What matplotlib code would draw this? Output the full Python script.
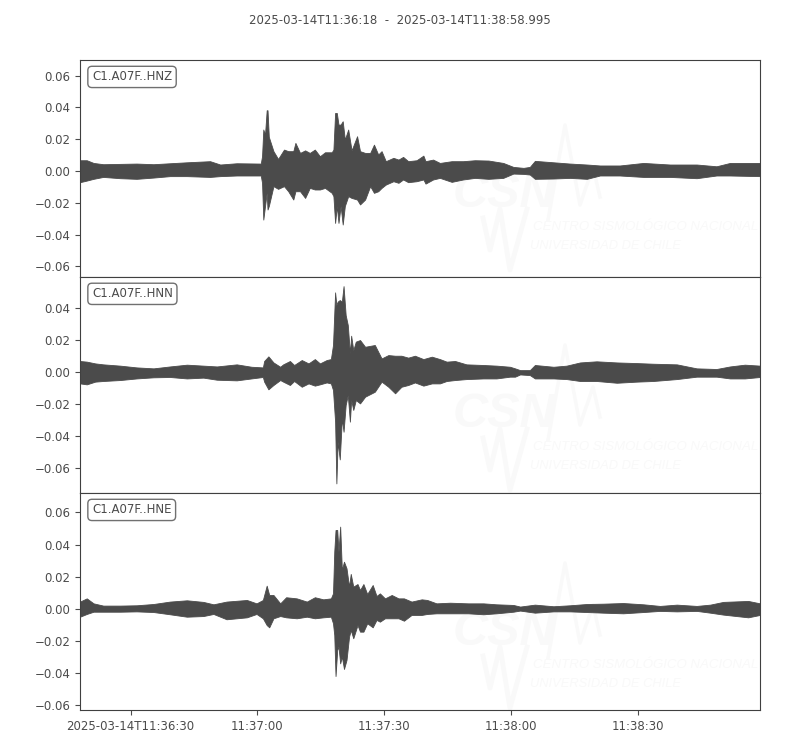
import numpy as np
import matplotlib
matplotlib.use("Agg")
import matplotlib.pyplot as plt

# trace envelopes: seconds after 11:36:18, amplitude in 1/1000
hnz_t = [0.0, 1.6, 3.2, 5.5, 9.5, 13.4, 17.4, 21.3, 25.3, 30.8, 33.2, 37.1, 42.8, 43.1, 43.4, 43.8, 44.2, 44.4, 44.7,
         45.8, 46.9, 48.3, 49.3, 50.5, 51.0, 52.1, 53.3, 54.4, 55.6, 56.8, 58.0, 59.6, 60.0, 60.4, 60.8, 61.2, 61.7,
         62.2, 62.7, 63.5, 64.3, 65.6, 66.3, 67.5, 68.7, 69.6, 70.6, 71.4, 72.4, 74.2, 75.4, 76.5, 77.7, 79.7, 81.3,
         81.8, 83.6, 85.2,
         88.0, 90.7, 93.5, 96.7, 100.2, 102.6, 105.0, 106.5, 107.7, 112.1, 116.0, 120.0, 123.1, 127.8, 133.4, 139.7,
         146.0, 150.7, 153.9, 161.0]
hnz_up = [6.8, 6.8, 5.1, 4.3, 4.5, 4.7, 4.3, 4.9, 5.5, 6.2, 4.1, 4.9, 4.7, 9.3, 26.1, 22.9, 38.2, 38.2, 21.5,
          12.5, 7.6, 13.5, 12.5, 12.5, 17.7, 11.4, 13.0, 11.4, 13.5, 9.3, 11.8, 11.8, 13.5, 36.5, 36.5, 29.2, 29.2,
          31.3, 19.8, 26.1, 13.0, 21.9, 12.5, 11.4, 11.4, 16.6, 10.4, 12.5, 6.2, 8.3, 7.2, 8.9, 6.2, 6.8, 9.7,
          6.2, 7.2, 5.1,
          6.2, 6.2, 6.8, 6.6, 5.1, 2.6, 2.0, 2.6, 6.4, 5.5, 4.7, 4.1, 3.5, 3.5, 5.1, 4.1,
          4.1, 3.0, 5.1, 5.1]
hnz_lo = [-7.0, -6.0, -4.9, -3.7, -4.5, -4.9, -4.1, -3.2, -3.2, -3.7, -3.2, -2.8, -2.8, -7.4, -30.5, -22.1, -13.7, -24.2, -22.0,
          -9.5, -11.2, -9.5, -12.7, -17.9, -12.7, -12.7, -16.9, -10.6, -11.6, -11.6, -10.6, -13.7, -15.8, -32.6, -22.0, -32.6, -22.0,
          -33.6, -22.0, -15.8, -16.9, -17.9, -21.0, -17.9, -9.5, -13.7, -12.7, -10.6, -8.5, -6.4, -7.4, -5.3, -7.0, -6.4, -5.3,
          -7.9, -5.3, -4.3,
          -6.8, -5.3, -4.3, -4.9, -4.3, -1.6, -1.8, -2.2, -4.9, -4.7, -4.3, -4.9, -2.8, -2.8, -3.7, -3.7,
          -4.5, -2.8, -2.8, -3.2]

hnn_t = [0.0, 1.6, 3.6, 5.5, 9.5, 13.4, 17.4, 21.3, 25.3, 29.2, 32.4, 37.1, 40.6, 43.3, 43.6, 44.6,
         45.8, 47.4, 48.1, 49.7, 50.7, 52.5, 54.1, 55.6, 56.8, 58.4, 59.4, 59.9,
         60.4, 60.7, 61.0, 61.5, 62.0, 62.4, 62.9, 63.4, 63.9, 64.2, 64.7, 65.3,
         66.3, 67.5, 69.8, 71.4, 73.0, 74.6, 76.1, 77.7, 79.3, 81.3, 83.3, 85.2, 86.8, 88.8, 91.5, 95.5, 98.6, 101.8, 103.0, 104.2,
         106.5, 107.7, 112.1, 115.2, 118.4, 122.3, 127.1, 131.8, 135.7, 141.3, 146.0, 150.7, 153.9, 157.4, 161.0]
hnn_up = [6.9, 6.5, 5.4, 4.8, 4.0, 2.9, 2.3, 3.5, 4.6, 4.0, 3.5, 4.8, 3.3, 2.9, 6.9, 9.8,
          6.0, 3.3, 4.8, 6.9, 4.4, 7.5, 5.4, 8.1, 5.4, 7.5, 8.1, 16.9,
          49.8, 41.9, 44.0, 45.0, 44.0, 53.7, 35.6, 29.4, 11.7, 22.7, 13.7, 19.0,
          20.0, 15.8, 16.9, 8.5, 10.6, 10.2, 10.2, 9.0, 10.2, 8.1, 9.6, 8.1, 6.5, 6.9, 4.8, 4.4, 4.0, 3.3, 2.3, 1.2,
          1.2, 4.4, 3.3, 4.0, 6.0, 6.7, 6.0, 5.6, 5.2, 4.8, 2.3, 1.9, 3.5, 4.6, 4.0]
hnn_lo = [-7.1, -7.7, -6.0, -5.6, -5.0, -4.0, -3.3, -3.1, -4.0, -3.5, -4.8, -5.2, -4.0, -3.1, -6.0, -10.8,
          -8.1, -5.0, -6.0, -8.1, -5.6, -9.2, -7.1, -8.5, -7.7, -6.5, -7.1, -11.2,
          -31.0, -69.6, -43.5, -54.6, -29.0, -37.3, -20.6, -14.4, -31.0, -17.5, -23.7, -17.5,
          -19.6, -15.4, -12.3, -6.0, -9.2, -13.3, -9.2, -8.1, -6.5, -8.5, -7.1, -7.1, -5.6, -5.0, -4.4, -4.0, -4.0, -2.9, -2.9, -1.5,
          -1.9, -4.0, -4.0, -4.4, -5.6, -5.6, -6.7, -6.0, -5.6, -4.4, -2.9, -2.9, -4.0, -4.0, -3.1]

hne_t = [0.0, 1.6, 3.2, 5.5, 9.5, 13.4, 17.4, 21.3, 25.3, 29.2, 31.6, 34.7, 39.5, 41.8, 43.3, 44.2, 44.8, 45.8, 47.4,
         48.8, 51.3, 53.7, 55.6, 57.6, 59.4, 59.9, 60.2, 60.5, 60.9, 61.2, 61.6, 62.0, 62.5, 63.1, 63.7,
         64.1, 64.7, 65.7, 66.3, 67.1, 68.0, 69.3, 70.2, 71.0, 72.2, 73.8, 75.4, 76.7, 78.5, 80.9, 82.2, 84.4, 87.6,
         91.9, 95.5, 98.6, 102.6,
         104.2, 107.7, 112.1, 116.0, 120.0, 123.9, 128.6, 133.4, 137.3, 141.3, 146.0, 149.2, 152.3, 158.2, 161.0]
hne_up = [4.6, 6.6, 3.5, 2.1, 2.1, 2.3, 3.1, 4.6, 5.4, 4.4, 2.9, 4.6, 5.6, 3.5, 5.6, 14.5, 8.7, 8.7, 3.5,
          7.3, 6.6, 4.6, 7.3, 6.0, 6.6, 9.7, 35.7, 49.1, 49.1, 35.7, 51.2, 24.3, 29.4, 25.3, 13.9,
          21.8, 13.9, 15.5, 11.8, 15.5, 9.3, 14.9, 8.1, 9.7, 6.6, 8.7, 6.6, 6.6, 4.6, 6.0, 5.6, 3.5, 3.9,
          3.5, 3.5, 2.9, 2.5,
          1.5, 2.7, 1.7, 2.3, 3.1, 3.3, 3.7, 2.9, 1.9, 2.7, 1.9, 2.7, 4.4, 5.0, 3.5]
hne_lo = [-4.8, -3.1, -1.7, -1.7, -1.7, -1.5, -1.9, -3.3, -4.8, -4.4, -3.1, -6.4, -5.2, -3.1, -5.8, -10.0, -11.4, -5.8, -4.4,
          -5.2, -5.8, -4.8, -5.8, -5.2, -4.8, -8.9, -16.2, -41.7, -25.5, -23.4, -33.8, -29.6, -37.3, -31.7, -17.2,
          -13.1, -18.2, -10.0, -14.1, -14.1, -8.9, -11.4, -6.8, -7.9, -5.8, -5.8, -5.8, -7.3, -3.7, -3.7, -3.1, -2.7, -2.7,
          -2.7, -3.3, -2.7, -1.7,
          -1.0, -2.3, -1.5, -1.5, -1.9, -2.3, -2.7, -1.9, -1.2, -1.5, -1.2, -2.3, -3.5, -5.2, -3.7]

channels = ["C1.A07F..HNZ", "C1.A07F..HNN", "C1.A07F..HNE"]
ylims = [(-0.0666, 0.0698), (-0.0756, 0.0594), (-0.0628, 0.0721)]
yticks = [[-0.06, -0.04, -0.02, 0.0, 0.02, 0.04, 0.06],
          [-0.06, -0.04, -0.02, 0.0, 0.02, 0.04],
          [-0.06, -0.04, -0.02, 0.0, 0.02, 0.04, 0.06]]
xtick_pos = [12, 42, 72, 102, 132]
xtick_labels = ["2025-03-14T11:36:30", "11:37:00", "11:37:30", "11:38:00", "11:38:30"]
title = "2025-03-14T11:36:18  -  2025-03-14T11:38:58.995"
duration = 160.995

traces = [(hnz_t, hnz_up, hnz_lo), (hnn_t, hnn_up, hnn_lo), (hne_t, hne_up, hne_lo)]

grey = "#4b4b4b"
mark = "#f9f9f9"
wm_font = "Liberation Sans"
plt.rcParams["font.size"] = 8.5

fig = plt.figure(figsize=(8, 7.5), dpi=100)
fig.text(0.5, 0.972, title, ha="center", va="center", color=grey, fontsize=8.45)

tops = [60, 277, 493, 710]
wm_shift = [0, 3, 5]
for i in range(3):
    ax = fig.add_axes([0.1, 1 - tops[i + 1] / 750, 0.85, (tops[i + 1] - tops[i]) / 750])

    # faint CSN watermark, positions in pixels below the top of each panel
    def ax_xy(px, py):
        return (px - 80) / 680, 1 - (py + wm_shift[i]) / (tops[i + 1] - tops[i])
    x, y = zip(*[ax_xy(p, q) for p, q in [(548, 160), (565, 65), (580, 145), (593, 107), (600, 137)]])
    ax.plot(x, y, color=mark, lw=2.5, transform=ax.transAxes, zorder=0)
    x, y = zip(*[ax_xy(p, q) for p, q in [(483, 158), (490, 190), (500, 149), (510, 210), (527, 149)]])
    ax.plot(x, y, color=mark, lw=3.5, transform=ax.transAxes, zorder=0)
    ax.text(*ax_xy(453, 147), "CSN", transform=ax.transAxes, color=mark, fontsize=35, fontstyle="italic",
            fontweight="bold", family=wm_font, va="baseline", zorder=0)
    ax.text(*ax_xy(533, 170), "CENTRO SISMOLÓGICO NACIONAL", transform=ax.transAxes, color=mark, fontsize=9.5,
            fontstyle="italic", family=wm_font, va="baseline", zorder=0)
    ax.text(*ax_xy(530, 189), "UNIVERSIDAD DE CHILE", transform=ax.transAxes, color=mark, fontsize=9.3,
            fontstyle="italic", family=wm_font, va="baseline", zorder=0)

    t, up, lo = traces[i]
    ax.fill_between(t, np.array(lo) / 1000, np.array(up) / 1000, color=grey, lw=0.6, zorder=2)

    ax.set_xlim(0, duration)
    ax.set_ylim(*ylims[i])
    ax.set_yticks(yticks[i])
    ax.tick_params(colors=grey, labelsize=8.5, length=3.5, width=0.8)
    for s in ax.spines.values():
        s.set_color("#404040")
    if i == 2:
        ax.set_xticks(xtick_pos)
        ax.set_xticklabels(xtick_labels)
    else:
        ax.set_xticks([])
    ax.text(0.0176, 0.922, channels[i], transform=ax.transAxes, color=grey, fontsize=8.5, va="center", ha="left",
            bbox=dict(boxstyle="round,pad=0.35", fc="white", ec="#707070", lw=1.0), zorder=3)

fig.savefig("out.png", dpi=100)
